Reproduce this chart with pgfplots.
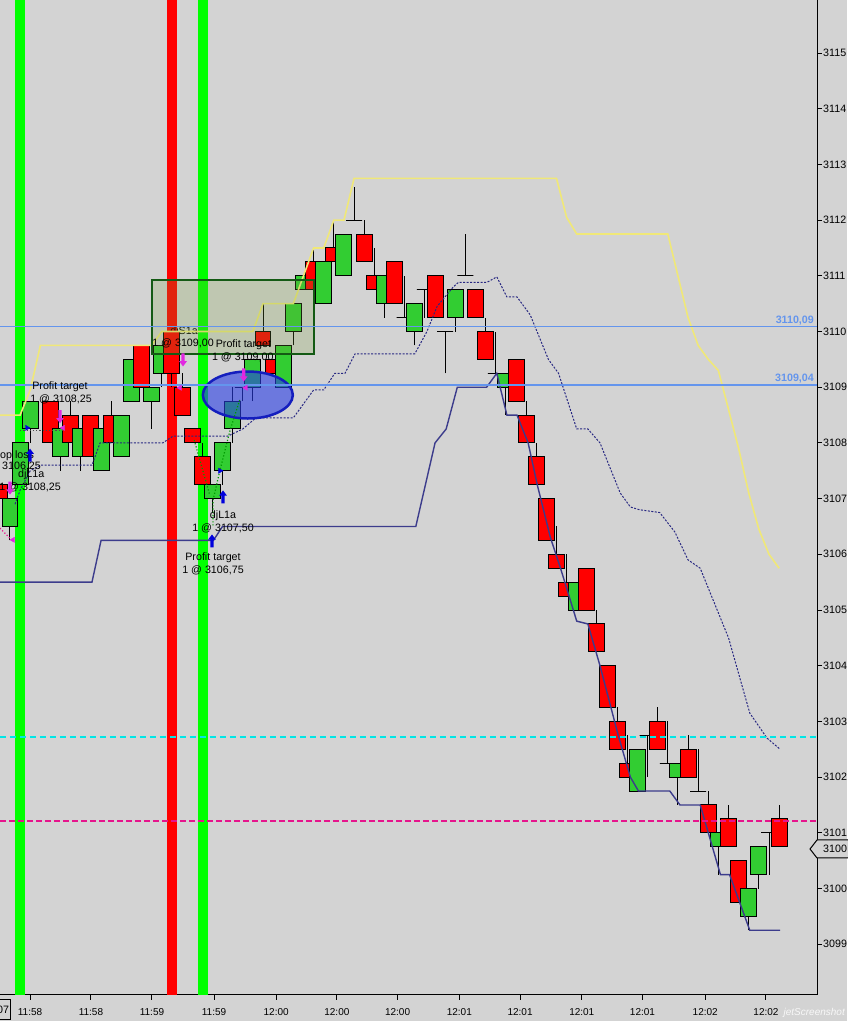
\documentclass[border=0pt]{standalone}
\usepackage{pgfplots}
\pgfplotsset{compat=1.18}
\usepackage{pgfplotstable}
\usepackage{fontspec}
\setmainfont{Liberation Sans}
\definecolor{bg}{RGB}{211,211,211}
\definecolor{cred}{RGB}{255,0,0}
\definecolor{cgreen}{RGB}{50,205,50}
\definecolor{bandgreen}{RGB}{0,255,0}
\definecolor{bandred}{RGB}{255,0,0}
\definecolor{yline}{RGB}{240,232,120}
\definecolor{navy1}{RGB}{60,60,140}
\definecolor{navy2}{RGB}{40,40,130}
\definecolor{levelblue}{RGB}{100,149,237}
\definecolor{cyanline}{RGB}{0,230,230}
\definecolor{magline}{RGB}{230,20,140}
\definecolor{boxfill}{RGB}{120,160,60}
\definecolor{boxdraw}{RGB}{20,90,20}
\definecolor{ellfill}{RGB}{40,60,230}
\definecolor{elldraw}{RGB}{20,30,190}
\definecolor{arrblue}{RGB}{0,0,220}
\definecolor{arrmag}{RGB}{225,40,225}
\newcommand\tickfont{\fontsize{10.7}{12}\selectfont}
\newcommand\timefont{\fontsize{10}{12}\selectfont}
\pgfdeclareplotmark{uparr}{%
 \pgfpathmoveto{\pgfqpoint{0pt}{1.0\pgfplotmarksize}}%
 \pgfpathlineto{\pgfqpoint{0.6\pgfplotmarksize}{0.2\pgfplotmarksize}}%
 \pgfpathlineto{\pgfqpoint{0.25\pgfplotmarksize}{0.2\pgfplotmarksize}}%
 \pgfpathlineto{\pgfqpoint{0.25\pgfplotmarksize}{-1.0\pgfplotmarksize}}%
 \pgfpathlineto{\pgfqpoint{-0.25\pgfplotmarksize}{-1.0\pgfplotmarksize}}%
 \pgfpathlineto{\pgfqpoint{-0.25\pgfplotmarksize}{0.2\pgfplotmarksize}}%
 \pgfpathlineto{\pgfqpoint{-0.6\pgfplotmarksize}{0.2\pgfplotmarksize}}%
 \pgfpathclose\pgfusepathqfill}
\pgfdeclareplotmark{downarr}{%
 \pgfpathmoveto{\pgfqpoint{0pt}{-1.0\pgfplotmarksize}}%
 \pgfpathlineto{\pgfqpoint{0.6\pgfplotmarksize}{-0.2\pgfplotmarksize}}%
 \pgfpathlineto{\pgfqpoint{0.25\pgfplotmarksize}{-0.2\pgfplotmarksize}}%
 \pgfpathlineto{\pgfqpoint{0.25\pgfplotmarksize}{1.0\pgfplotmarksize}}%
 \pgfpathlineto{\pgfqpoint{-0.25\pgfplotmarksize}{1.0\pgfplotmarksize}}%
 \pgfpathlineto{\pgfqpoint{-0.25\pgfplotmarksize}{-0.2\pgfplotmarksize}}%
 \pgfpathlineto{\pgfqpoint{-0.6\pgfplotmarksize}{-0.2\pgfplotmarksize}}%
 \pgfpathclose\pgfusepathqfill}

% bar index, open, high, low, close
\pgfplotstableread{
i o h l c
-1 3107.25 3107.25 3107.00 3107.00
0 3106.50 3107.00 3106.25 3107.00
1 3107.25 3108.00 3107.25 3108.00
2 3108.25 3108.75 3108.00 3108.75
4 3108.75 3108.75 3108.00 3108.00
5 3107.75 3108.25 3107.50 3108.25
6 3108.50 3108.75 3108.00 3108.00
7 3107.75 3108.25 3107.50 3108.25
8 3108.50 3108.50 3107.75 3107.75
9 3107.50 3108.25 3107.50 3108.25
10 3108.50 3108.75 3108.00 3108.00
11 3107.75 3108.50 3107.75 3108.50
12 3108.75 3109.50 3108.75 3109.50
13 3109.75 3109.75 3109.00 3109.00
14 3108.75 3109.00 3108.25 3109.00
15 3109.25 3109.75 3109.00 3109.75
16 3110.00 3110.00 3109.00 3109.25
17 3109.00 3109.25 3108.50 3108.50
18 3108.25 3108.25 3108.00 3108.00
19 3107.75 3108.00 3107.25 3107.25
20 3107.00 3107.25 3106.75 3107.25
21 3107.50 3108.00 3107.25 3108.00
22 3108.25 3109.00 3108.00 3108.75
23 3109.00 3109.00 3108.75 3109.00
24 3109.00 3109.50 3108.75 3109.50
25 3110.00 3110.50 3109.75 3109.75
26 3109.50 3109.50 3109.25 3109.25
27 3109.00 3109.75 3109.00 3109.75
28 3110.00 3110.50 3109.75 3110.50
29 3110.75 3111.00 3110.75 3111.00
30 3111.25 3111.50 3110.75 3110.75
31 3110.50 3111.25 3110.50 3111.25
32 3111.50 3112.00 3111.25 3111.25
33 3111.00 3111.75 3111.00 3111.75
34 3112.00 3112.60 3112.00 3112.00
35 3111.75 3112.00 3111.25 3111.25
36 3111.00 3111.50 3110.75 3110.75
37 3110.50 3111.00 3110.25 3111.00
38 3111.25 3111.25 3110.50 3110.50
39 3110.25 3111.00 3110.25 3110.25
40 3110.00 3110.50 3109.75 3110.50
41 3110.75 3110.75 3110.25 3110.75
42 3111.00 3111.00 3110.25 3110.25
43 3110.00 3110.00 3109.25 3110.00
44 3110.25 3110.75 3110.00 3110.75
45 3111.00 3111.75 3111.00 3111.00
46 3110.75 3110.75 3110.25 3110.25
47 3110.00 3110.25 3109.50 3109.50
48 3109.25 3110.00 3109.25 3109.25
49 3109.00 3109.25 3108.50 3109.25
50 3109.50 3109.50 3108.75 3108.75
51 3108.50 3108.75 3108.00 3108.00
52 3107.75 3108.00 3107.25 3107.25
53 3107.00 3107.00 3106.25 3106.25
54 3106.00 3106.50 3105.75 3105.75
55 3105.50 3106.00 3105.25 3105.25
56 3105.00 3105.50 3105.00 3105.50
57 3105.75 3105.75 3105.00 3105.00
58 3104.75 3105.00 3104.25 3104.25
59 3104.00 3104.00 3103.25 3103.25
60 3103.00 3103.25 3102.50 3102.50
61 3102.25 3102.75 3102.00 3102.00
62 3101.75 3102.50 3101.75 3102.50
63 3102.75 3102.75 3102.00 3102.75
64 3103.00 3103.25 3102.50 3102.50
65 3102.25 3103.00 3102.25 3102.25
66 3102.00 3102.25 3101.50 3102.25
67 3102.50 3102.75 3102.00 3102.00
68 3101.75 3102.50 3101.75 3101.75
69 3101.50 3101.75 3101.00 3101.00
70 3100.75 3101.00 3100.25 3101.00
71 3101.25 3101.50 3100.75 3100.75
72 3100.50 3100.50 3099.75 3099.75
73 3099.50 3100.00 3099.25 3100.00
74 3100.25 3100.75 3100.00 3100.75
75 3101.00 3101.00 3100.25 3101.00
76 3101.25 3101.50 3100.75 3100.75
}\candles

\begin{document}
\begin{tikzpicture}
\path[use as bounding box] (0pt,0pt) rectangle (847pt,1021pt);
\fill[bg] (0pt,0pt) rectangle (847pt,1021pt);
\begin{axis}[
  at={(0pt,26pt)}, anchor=south west, scale only axis,
  width=817pt, height=995pt,
  xmin=-0.988, xmax=79.743, ymin=3098.088, ymax=3115.952,
  axis x line*=bottom, axis y line*=right,
  axis line style={black, line width=1pt, -},
  x axis line style={-}, y axis line style={-},
  tick align=outside, major tick length=5pt,
  tick style={black, line width=1pt},
  ytick={3099,3100,3101,3102,3103,3104,3105,3106,3107,3108,3109,3110,3111,3112,3113,3114,3115},
  yticklabels={3099,3100,3101,3102,3103,3104,3105,3106,3107,3108,3109,3110,3111,3112,3113,3114,3115},
  yticklabel style={anchor=west, font=\tickfont, inner sep=0pt, xshift=1pt},
  xtick={1.98,8.0,14.03,20.16,26.3,32.3,38.3,44.4,50.4,56.5,62.5,68.7,74.7},
  xticklabels={11:58,11:58,11:59,11:59,12:00,12:00,12:00,12:01,12:01,12:01,12:01,12:02,12:02},
  xticklabel style={anchor=north, font=\timefont, inner sep=0pt, yshift=-8pt},
]
% highlight bands
\addplot[fill=bandgreen, draw=none, forget plot] coordinates {(0.5,3098) (1.5,3098) (1.5,3116) (0.5,3116)} -- cycle;
\addplot[fill=bandred, draw=none, forget plot] coordinates {(15.5,3098) (16.5,3098) (16.5,3116) (15.5,3116)} -- cycle;
\addplot[fill=bandgreen, draw=none, forget plot] coordinates {(18.6,3098) (19.6,3098) (19.6,3116) (18.6,3116)} -- cycle;

\node[font=\tickfont, inner sep=0pt] at (axis cs:17.2,3109.99) {djS1a};

% candles
\pgfplotstablegetrowsof{\candles}
\pgfmathtruncatemacro\lastrow{\pgfplotsretval-1}
\pgfplotsforeachungrouped \r in {0,...,\lastrow}{%
  \pgfplotstablegetelem{\r}{i}\of\candles\let\ci\pgfplotsretval
  \pgfplotstablegetelem{\r}{o}\of\candles\let\co\pgfplotsretval
  \pgfplotstablegetelem{\r}{h}\of\candles\let\ch\pgfplotsretval
  \pgfplotstablegetelem{\r}{l}\of\candles\let\cl\pgfplotsretval
  \pgfplotstablegetelem{\r}{c}\of\candles\let\cc\pgfplotsretval
  \pgfmathsetmacro\xa{\ci-0.79}%
  \pgfmathsetmacro\xb{\ci+0.79}%
  \ifdim\cc pt>\co pt \def\cfill{cgreen}\else\def\cfill{cred}\fi
  \edef\temp{%
    \noexpand\addplot[black, line width=1pt, forget plot] coordinates {(\ci,\cl) (\ci,\ch)};
    \noexpand\addplot[draw=black, line width=1pt, fill=\cfill, forget plot] coordinates {(\xa,\co) (\xb,\co) (\xb,\cc) (\xa,\cc)} -- cycle;
  }\temp
}

% upper channel (yellow)
\addplot[yline, line width=1.6pt, forget plot] coordinates {
(-0.988,3108.50) (1,3108.50) (2,3108.95) (3,3109.75) (14,3109.75) (15,3110.00)
(24,3110.00) (25,3110.50) (28,3110.50) (29,3111.00) (30,3111.50) (31,3111.50)
(32,3112.00) (33,3112.00) (34,3112.75) (54,3112.75) (55,3112.05) (56,3111.75)
(65,3111.75) (66,3111.00) (67,3110.25) (68,3109.75) (69,3109.50) (70,3109.30)
(71,3108.60) (72,3107.90) (73,3107.10) (74,3106.45) (75,3106.00) (76,3105.75)};
% middle (dashed navy)
\addplot[navy2, line width=1pt, dash pattern=on 2pt off 1.5pt, forget plot] coordinates {
(0.5,3106.90) (1.0,3107.15) (2.0,3107.50) (3.0,3107.60) (8.1,3107.60) (8.9,3108.00)
(15.1,3108.00) (16.1,3108.12) (21.5,3108.12) (23.0,3108.25) (24.3,3108.45) (28.0,3108.45)
(30.0,3108.95) (31.0,3108.95) (32.1,3109.25) (33.1,3109.25) (34.1,3109.60) (40.0,3109.60)
(41.2,3110.00) (42.2,3110.45) (43.8,3110.80) (44.3,3110.88) (47.1,3110.88) (48.1,3110.98)
(49.1,3110.62) (50.1,3110.62) (51.4,3110.30) (53.2,3109.50) (54.2,3109.25) (56.0,3108.25)
(57.1,3108.25) (58.3,3108.00) (60.3,3107.10) (61.3,3106.85) (62.2,3106.80) (64.2,3106.75)
(65.7,3106.40) (67.0,3105.90) (68.2,3105.75) (71.0,3104.50) (73.1,3103.15) (74.8,3102.70)
(76.1,3102.50)};
% lower channel (navy)
\addplot[navy1, line width=1.4pt, forget plot] coordinates {
(-0.988,3105.50) (8.1,3105.50) (9.0,3106.25) (20.1,3106.25) (21.0,3106.50) (40.1,3106.50)
(42.0,3108.00) (43.1,3108.25) (44.2,3109.00) (47.1,3109.00) (48.1,3109.25) (49.1,3108.50)
(50.1,3108.50) (51.2,3108.00) (52.1,3107.25) (53.4,3106.30) (54.4,3105.75) (56.0,3104.80)
(57.1,3104.75) (58.3,3104.00) (60.1,3102.75) (61.3,3102.00) (62.1,3101.75) (65.2,3101.75)
(66.2,3101.50) (68.2,3101.50) (70.2,3100.25) (71.1,3100.25) (73.1,3099.25) (76.1,3099.25)};

% zone box and ellipse
\addplot[fill=boxfill, fill opacity=0.22, draw=boxdraw, line width=2pt, forget plot] coordinates {(14.03,3109.60) (30.04,3109.60) (30.04,3110.92) (14.03,3110.92)} -- cycle;
\draw[fill=ellfill, fill opacity=0.6, draw=elldraw, line width=2.5pt] (axis cs:23.5,3108.86) ellipse [x radius=45pt, y radius=23.5pt];

% levels
\addplot[levelblue, line width=1.5pt, forget plot] coordinates {(-0.988,3110.09) (79.743,3110.09)};
\addplot[levelblue, line width=1.5pt, forget plot] coordinates {(-0.988,3109.04) (79.743,3109.04)};
\addplot[cyanline, line width=1.5pt, dash pattern=on 6pt off 4pt, forget plot] coordinates {(-0.988,3102.72) (79.743,3102.72)};
\addplot[magline, line width=1.5pt, dash pattern=on 6pt off 3pt, forget plot] coordinates {(-0.988,3101.21) (79.743,3101.21)};
\node[anchor=south east, font=\bfseries\tickfont, text=levelblue, inner sep=1.5pt] at (axis cs:79.6,3110.09) {3110,09};
\node[anchor=south east, font=\bfseries\tickfont, text=levelblue, inner sep=1.5pt] at (axis cs:79.6,3109.04) {3109,04};

% trade lines
\addplot[green!60!black, line width=1.2pt, dotted, forget plot] coordinates {(18.2,3108.05) (19.7,3107.09)};
\addplot[green!60!black, line width=1.2pt, dotted, forget plot] coordinates {(22.7,3108.77) (21.75,3108.23) (20.75,3107.51) (20.06,3106.97) (20.06,3106.52)};
\addplot[magline, line width=1.2pt, dotted, forget plot] coordinates {(-0.99,3106.47) (0.2,3106.25)};
\addplot[black!70, line width=1.2pt, dotted, forget plot] coordinates {(1,3108.23) (5.24,3108.23)};

% execution markers
\addplot[only marks, mark=uparr, mark size=6.5pt, color=arrblue, forget plot] coordinates {(1.98,3107.78) (21.05,3107.03) (19.96,3106.24)};
\addplot[only marks, mark=downarr, mark size=6.5pt, color=arrmag, forget plot] coordinates {(4.94,3108.47) (0.0,3107.19) (17.1,3109.49) (23.1,3109.22)};
\addplot[only marks, mark=triangle*, mark size=3pt, color=arrblue, mark options={rotate=-90}, forget plot] coordinates {(1.68,3108.27) (20.75,3107.50)};
\addplot[only marks, mark=triangle*, mark size=3pt, color=arrmag, mark options={rotate=90}, forget plot] coordinates {(5.24,3108.27) (0.3,3106.26) (16.8,3108.99) (23.3,3108.99)};

% annotations
\node[font=\tickfont, inner sep=0pt] at (axis cs:4.94,3109.00) {Profit target};
\node[font=\tickfont, inner sep=0pt] at (axis cs:5.04,3108.79) {1 @ 3108,25};
\node[font=\tickfont, inner sep=0pt, anchor=west] at (axis cs:-0.988,3107.77) {op loss};
\node[font=\tickfont, inner sep=0pt, anchor=west] at (axis cs:-0.79,3107.57) {3106,25};
\node[font=\tickfont, inner sep=0pt] at (axis cs:2.1,3107.42) {djL1a};
\node[font=\tickfont, inner sep=0pt] at (axis cs:1.98,3107.21) {1 @ 3108,25};
\node[font=\tickfont, inner sep=0pt] at (axis cs:17.1,3109.79) {1 @ 3109,00};
\node[font=\tickfont, inner sep=0pt] at (axis cs:23.07,3109.76) {Profit target};
\node[font=\tickfont, inner sep=0pt] at (axis cs:23.0,3109.54) {1 @ 3109,00};
\node[font=\tickfont, inner sep=0pt] at (axis cs:21.05,3106.69) {djL1a};
\node[font=\tickfont, inner sep=0pt] at (axis cs:21.05,3106.47) {1 @ 3107,50};
\node[font=\tickfont, inner sep=0pt] at (axis cs:20.06,3105.93) {Profit target};
\node[font=\tickfont, inner sep=0pt] at (axis cs:20.06,3105.72) {1 @ 3106,75};
\end{axis}
% current price marker and time cursor box
\filldraw[fill=bg, draw=black, line width=1pt] (850pt,181pt) -- (817pt,181pt) -- (810pt,172pt) -- (817pt,163pt) -- (850pt,163pt);
\node[font=\tickfont, anchor=west, inner sep=0pt] at (823pt,172pt) {3100};
\node[draw=black, line width=1pt, font=\tickfont, anchor=east, inner sep=1.5pt, minimum height=20pt] at (11pt,11pt) {07};
\node[font=\itshape\fontsize{10}{12}\selectfont, text=white!85!bg, anchor=east, inner sep=1pt] at (846pt,8pt) {jetScreenshot};
\end{tikzpicture}
\end{document}
